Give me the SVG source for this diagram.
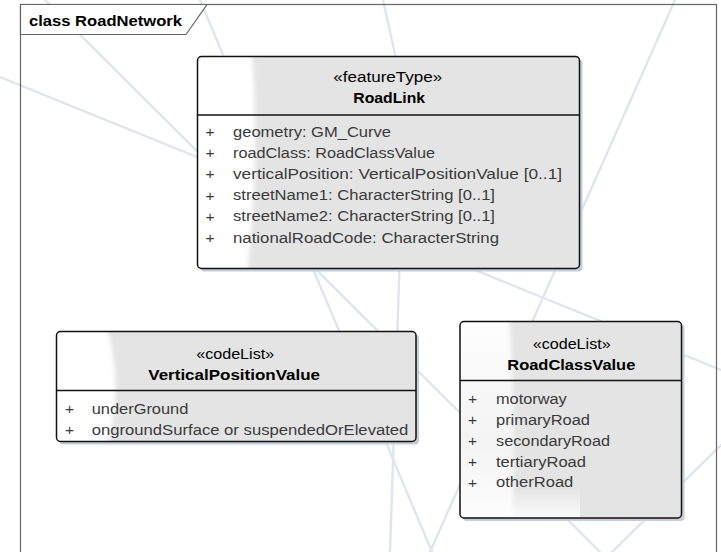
<svg xmlns="http://www.w3.org/2000/svg" width="721" height="552" viewBox="0 0 721 552">
<defs>
<style>
.wm{stroke:#dfe5ee;stroke-width:2.4;fill:none;stroke-linecap:round;stroke-linejoin:round}
.frame{fill:none;stroke:#666;stroke-width:1.2}
.tab{fill:#fff;stroke:#666;stroke-width:1.2}
.box{fill:none;stroke:#111;stroke-width:1.5}
.shadow{fill:#c6ccd8}
.gray{fill:#e4e4e4}
.gloss{fill:#fff;filter:url(#soft)}
.div{stroke:#111;stroke-width:1.3}
text{font-family:"Liberation Sans",Arial,sans-serif}
.title{font-size:15px;font-weight:bold;fill:#000}
.st{font-size:14px;fill:#000}
.nm{font-size:14.5px;font-weight:bold;fill:#000}
.at{font-size:14px;fill:#3a3a3a}
.pl{font-size:15.5px;fill:#3a3a3a;text-anchor:middle}
</style>
<filter id="soft" x="-30%" y="-10%" width="160%" height="120%"><feGaussianBlur stdDeviation="2"/></filter>
<linearGradient id="rcvGloss" x1="0" y1="0" x2="0" y2="1">
<stop offset="0" stop-color="#fff"/>
<stop offset="0.6" stop-color="#f3f3f3"/>
<stop offset="1" stop-color="#fff"/>
</linearGradient>
<linearGradient id="rcvBottom" x1="0" y1="0" x2="0" y2="1">
<stop offset="0" stop-color="#fff" stop-opacity="0"/>
<stop offset="1" stop-color="#fff" stop-opacity="0.9"/>
</linearGradient>
<clipPath id="c1"><rect x="197.5" y="56.5" width="382" height="212" rx="4"/></clipPath>
<clipPath id="c2"><rect x="56.5" y="331.5" width="359.5" height="110" rx="4"/></clipPath>
<clipPath id="c3"><rect x="460" y="321.5" width="221.5" height="196.5" rx="4"/></clipPath>
</defs>

<rect x="0" y="0" width="721" height="552" fill="#fff"/>

<g id="watermark">
<line class="wm" x1="0" y1="77" x2="721" y2="370"/>
<line class="wm" x1="45" y1="0" x2="600" y2="552"/>
<line class="wm" x1="200" y1="0" x2="432" y2="552"/>
<polyline class="wm" points="383,0 405,100 390,552"/>
<line class="wm" x1="675" y1="0" x2="430" y2="552"/>
<line class="wm" x1="721" y1="445" x2="608" y2="556"/>
</g>

<g id="frame">
<rect class="frame" x="20.5" y="4.5" width="696" height="560"/>
<path class="tab" d="M20.5,4.5 H207 L186,34.5 H20.5 Z"/>
<text class="title" x="29" y="26" textLength="153" lengthAdjust="spacingAndGlyphs">class RoadNetwork</text>
</g>

<g id="connectors"></g>

<g id="RoadLink">
<rect class="shadow" x="200.5" y="59.5" width="382" height="212" rx="4"/>
<g clip-path="url(#c1)">
<rect class="gray" x="197.5" y="56.5" width="382" height="212"/>
<path class="gloss" d="M190,50 H252 Q260,160 247,275 H190 Z"/>
</g>
<rect class="box" x="197.5" y="56.5" width="382" height="212" rx="4"/>
<line class="div" x1="197.5" y1="115" x2="579.5" y2="115"/>
<text class="st" x="333.3" y="82" textLength="109" lengthAdjust="spacingAndGlyphs">«featureType»</text>
<text class="nm" x="353.3" y="103" textLength="71.7" lengthAdjust="spacingAndGlyphs">RoadLink</text>
<text class="pl" x="210" y="137">+</text>
<text class="pl" x="210" y="158.2">+</text>
<text class="pl" x="210" y="179.4">+</text>
<text class="pl" x="210" y="200.6">+</text>
<text class="pl" x="210" y="221.8">+</text>
<text class="pl" x="210" y="243">+</text>
<text class="at" x="233" y="136.5" textLength="158" lengthAdjust="spacingAndGlyphs">geometry: GM_Curve</text>
<text class="at" x="233" y="157.7" textLength="202" lengthAdjust="spacingAndGlyphs">roadClass: RoadClassValue</text>
<text class="at" x="233" y="178.9" textLength="329" lengthAdjust="spacingAndGlyphs">verticalPosition: VerticalPositionValue [0..1]</text>
<text class="at" x="233" y="200.1" textLength="262" lengthAdjust="spacingAndGlyphs">streetName1: CharacterString [0..1]</text>
<text class="at" x="233" y="221.3" textLength="262" lengthAdjust="spacingAndGlyphs">streetName2: CharacterString [0..1]</text>
<text class="at" x="233" y="242.5" textLength="266" lengthAdjust="spacingAndGlyphs">nationalRoadCode: CharacterString</text>
</g>

<g id="VerticalPositionValue">
<rect class="shadow" x="59.5" y="334.5" width="359.5" height="110" rx="4"/>
<g clip-path="url(#c2)">
<rect class="gray" x="56.5" y="331.5" width="359.5" height="110"/>
<path class="gloss" d="M50,325 H106 Q125,386 106,448 H50 Z"/>
</g>
<rect class="box" x="56.5" y="331.5" width="359.5" height="110" rx="4"/>
<line class="div" x1="56.5" y1="390.5" x2="416" y2="390.5"/>
<text class="st" x="196.2" y="358.5" textLength="78" lengthAdjust="spacingAndGlyphs">«codeList»</text>
<text class="nm" x="148.3" y="379.5" textLength="171.7" lengthAdjust="spacingAndGlyphs">VerticalPositionValue</text>
<text class="pl" x="69.5" y="414">+</text>
<text class="pl" x="69.5" y="435">+</text>
<text class="at" x="91.7" y="413.5" textLength="96.7" lengthAdjust="spacingAndGlyphs">underGround</text>
<text class="at" x="91.7" y="434.5" textLength="316.7" lengthAdjust="spacingAndGlyphs">ongroundSurface or suspendedOrElevated</text>
</g>

<g id="RoadClassValue">
<rect class="shadow" x="463" y="324.5" width="221.5" height="196.5" rx="4"/>
<g clip-path="url(#c3)">
<rect class="gray" x="460" y="321.5" width="221.5" height="196.5"/>
<rect x="460" y="488" width="120" height="31" fill="url(#rcvBottom)"/>
<path class="gloss" d="M453,315 H509 Q517,420 512,525 H453 Z" style="fill:url(#rcvGloss)"/>
</g>
<rect class="box" x="460" y="321.5" width="221.5" height="196.5" rx="4"/>
<line class="div" x1="460" y1="380.5" x2="681.5" y2="380.5"/>
<text class="st" x="532.7" y="349" textLength="78" lengthAdjust="spacingAndGlyphs">«codeList»</text>
<text class="nm" x="507.3" y="369.5" textLength="128" lengthAdjust="spacingAndGlyphs">RoadClassValue</text>
<text class="pl" x="472.5" y="404.3">+</text>
<text class="pl" x="472.5" y="425.3">+</text>
<text class="pl" x="472.5" y="446.2">+</text>
<text class="pl" x="472.5" y="467">+</text>
<text class="pl" x="472.5" y="487.8">+</text>
<text class="at" x="496" y="403.8" textLength="70.7" lengthAdjust="spacingAndGlyphs">motorway</text>
<text class="at" x="496" y="424.8" textLength="94" lengthAdjust="spacingAndGlyphs">primaryRoad</text>
<text class="at" x="496" y="445.7" textLength="114" lengthAdjust="spacingAndGlyphs">secondaryRoad</text>
<text class="at" x="496" y="466.5" textLength="90" lengthAdjust="spacingAndGlyphs">tertiaryRoad</text>
<text class="at" x="496" y="487.3" textLength="77.3" lengthAdjust="spacingAndGlyphs">otherRoad</text>
</g>
</svg>
